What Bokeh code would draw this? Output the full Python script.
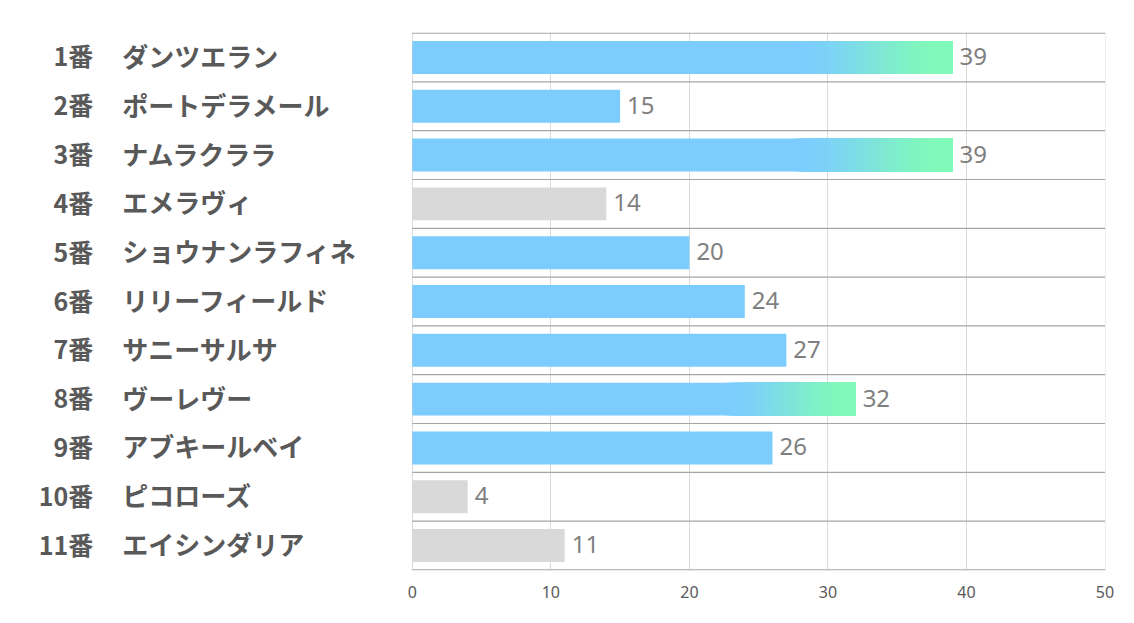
from bokeh.plotting import figure
from bokeh.models import ColumnDataSource, Range1d, FixedTicker
from bokeh.core.properties import value
from bokeh.embed import file_html
from bokeh.resources import INLINE

numbers = ["1番", "2番", "3番", "4番", "5番", "6番", "7番", "8番", "9番", "10番", "11番"]
names = ["ダンツエラン", "ポートデラメール", "ナムラクララ", "エメラヴィ", "ショウナンラフィネ",
         "リリーフィールド", "サニーサルサ", "ヴーレヴー", "アブキールベイ", "ピコローズ", "エイシンダリア"]
values = [39, 15, 39, 14, 20, 24, 27, 32, 26, 4, 11]
x_ticks = [0, 10, 20, 30, 40, 50]

BLUE = "#7CCDFE"
GREEN = "#80FAB8"
GRAY = "#D9D9D9"

n = len(values)
ys = [i + 0.5 for i in range(n)]
colors = [GRAY if v < 15 else BLUE for v in values]

# plot area: 0 -> 412px, 50 -> 1105px
upp = 50.0 / 693.0
x_lo = -412 * upp

p = figure(width=1126, height=615, output_backend="svg", toolbar_location=None,
           x_range=Range1d(x_lo, 50.0 + 0.5 * upp), y_range=Range1d(n + 0.012, -0.012),
           min_border_left=0, min_border_right=21, min_border_top=32, min_border_bottom=45)
p.outline_line_color = None
p.background_fill_color = "white"
p.border_fill_color = "white"

p.yaxis.visible = False
p.xaxis.ticker = FixedTicker(ticks=x_ticks)
p.xaxis.axis_line_color = None
p.xaxis.major_tick_line_color = None
p.xaxis.minor_tick_line_color = None
p.xaxis.major_label_standoff = 9
p.xaxis.major_label_text_font = "Noto Sans"
p.xaxis.major_label_text_font_size = "16px"
p.xaxis.major_label_text_color = "#595959"

p.xgrid.ticker = FixedTicker(ticks=x_ticks)
p.xgrid.grid_line_color = "#D9D9D9"
p.ygrid.visible = False

# row separator lines over the plot area only
sep = list(range(n + 1))
p.segment(x0=[0] * len(sep), x1=[x_ticks[-1]] * len(sep), y0=sep, y1=sep,
          line_color="#A6A6A6", line_width=1.2)

bh = 0.675
src = ColumnDataSource(dict(y=ys, v=values, c=colors, num=numbers, name=names))
p.hbar(y="y", left=0, right="v", height=bh, fill_color="c", line_color=None, source=src)

# gradient overlay for the top bars
def mix(a, b, t):
    a = [int(a[i:i + 2], 16) for i in (1, 3, 5)]
    b = [int(b[i:i + 2], 16) for i in (1, 3, 5)]
    return "#%02x%02x%02x" % tuple(round(a[k] + (b[k] - a[k]) * t) for k in range(3))

steps = 40
gy, gl, gr, gc = [], [], [], []
for y, v in zip(ys, values):
    if v >= 30:
        start = 0.7 * v
        for k in range(1, steps):
            t = k / (steps - 1)
            t = t * t * (3 - 2 * t)
            gy.append(y)
            gl.append(start + (v - start) * k / steps)
            gr.append(v)
            gc.append(mix(BLUE, GREEN, t))
p.hbar(y=gy, left=gl, right=gr, height=bh, fill_color=gc, line_color=None)

p.text(x=0, y="y", text="num", source=src, x_offset=-319, y_offset=-2, text_align="right",
       text_baseline="middle", text_font=value("Noto Sans CJK JP"),
       text_font_style="bold", text_font_size="25px", text_color="#595959")
p.text(x=0, y="y", text="name", source=src, x_offset=-290, y_offset=-2, text_align="left",
       text_baseline="middle", text_font=value("Noto Sans CJK JP"),
       text_font_style="bold", text_font_size="26px", text_color="#595959")
p.text(x="v", y="y", text="v", source=src, x_offset=7, y_offset=-1, text_align="left",
       text_baseline="middle", text_font=value("Noto Sans"),
       text_font_size="24px", text_color="#7F7F7F")

open("out.html", "w").write(file_html(p, INLINE))
